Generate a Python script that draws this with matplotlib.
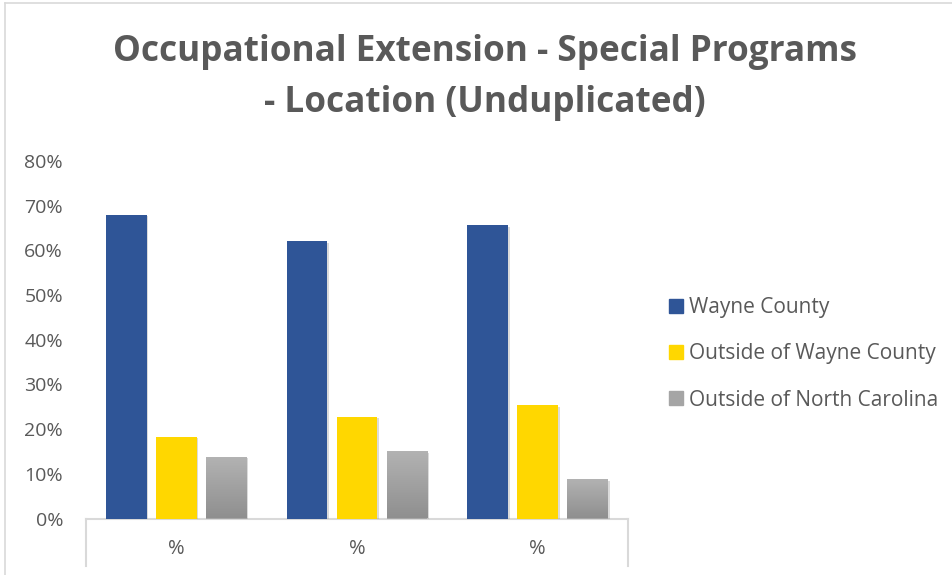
import numpy as np
import matplotlib
matplotlib.use("Agg")
import matplotlib.pyplot as plt
from matplotlib.lines import Line2D
from matplotlib.patches import Rectangle
from matplotlib.colors import LinearSegmentedColormap
import matplotlib.patheffects as pe

plt.rcParams['font.family'] = ['Open Sans', 'DejaVu Sans']

categories = ["%", "%", "%"]
series_names = ["Wayne County", "Outside of Wayne County", "Outside of North Carolina"]
wayne_county = [0.68, 0.62, 0.657]
outside_wayne = [0.183, 0.228, 0.254]
outside_nc = [0.138, 0.151, 0.088]
y_ticks = [0, 0.1, 0.2, 0.3, 0.4, 0.5, 0.6, 0.7, 0.8]

colors = ["#2F5597", "#FFD700", "#A5A5A5"]
text_color = "#595959"
line_color = "#D9D9D9"

W, H = 953, 575
ax_left, ax_right, ax_top, ax_bottom = 86, 628, 161, 518.5
fig = plt.figure(figsize=(W / 100, H / 100), dpi=100)
ax = fig.add_axes([ax_left / W, 1 - ax_bottom / H, (ax_right - ax_left) / W,
                   (ax_bottom - ax_top) / H])
px_per_unit_x = (ax_right - ax_left) / 3
px_per_unit_y = (ax_bottom - ax_top) / 0.8

x = np.arange(len(categories))
step = 50 / px_per_unit_x
width = 40.5 / px_per_unit_x
shadow = [pe.SimplePatchShadow(offset=(1.2, -1.2), shadow_rgbFace="#8a8a8a", alpha=0.3), pe.Normal()]

all_series = [wayne_county, outside_wayne, outside_nc]
containers = []
for i, (vals, c) in enumerate(zip(all_series, colors)):
    bars = ax.bar(x + (i - 1) * step, vals, width=width, color=c, zorder=3)
    for b in bars:
        b.set_path_effects(shadow)
    containers.append(bars)

# vertical gradient fill for the grey series
grad = np.linspace(0, 1, 256).reshape(-1, 1)
gcmap = LinearSegmentedColormap.from_list("g", ["#8F8F8F", "#B3B3B3"])
for b in containers[2]:
    x0, y0 = b.get_x(), b.get_y()
    im = ax.imshow(grad, cmap=gcmap, aspect="auto", origin="lower",
                   extent=[x0, x0 + b.get_width(), y0, y0 + b.get_height()], zorder=4)
    im.set_clip_path(b)

ax.set_xlim(-0.5, len(categories) - 0.5)
ax.set_ylim(0, 0.8)
ax.set_yticks(y_ticks)
ax.set_yticklabels([f"{int(round(t * 100))}%" for t in y_ticks])
ax.tick_params(axis="y", length=0, pad=16.5, labelsize=14, labelcolor=text_color)
ax.set_xticks([])
for s in ["top", "right", "left"]:
    ax.spines[s].set_visible(False)
ax.spines["bottom"].set_color(line_color)
ax.spines["bottom"].set_linewidth(1.5)
ax.spines["bottom"].set_zorder(2)

# category box below the axis
for xe in (-0.5, len(categories) - 0.5):
    ax.add_line(Line2D([xe, xe], [0, -47 / px_per_unit_y], color=line_color, lw=1.5,
                       clip_on=False))
for xi, lab in zip(x, categories):
    ax.text(xi, -31 / px_per_unit_y, lab, ha="center", va="center", fontsize=14.5,
            color=text_color)

# title
fig.text(485 / W, 1 - 52 / H, "Occupational Extension - Special Programs", ha="center",
         va="center", fontsize=25.3, fontweight="bold", color=text_color)
fig.text(485 / W, 1 - 103 / H, "- Location (Unduplicated)", ha="center",
         va="center", fontsize=25.3, fontweight="bold", color=text_color)

# legend
handles = [Rectangle((0, 0), 1, 1, color=c) for c in colors]
leg = fig.legend(handles, series_names, loc="center left", bbox_to_anchor=(669 / W, 1 - 354 / H),
                 frameon=False, fontsize=15, labelcolor=text_color, handlelength=0.65,
                 handleheight=0.65, handletextpad=0.3, labelspacing=1.2, borderpad=0,
                 borderaxespad=0)

# outer chart border (top and left edges)
fig.add_artist(Line2D([5 / W, 5 / W], [0, 1 - 3 / H], color=line_color, lw=1.2))
fig.add_artist(Line2D([5 / W, 1], [1 - 3 / H, 1 - 3 / H], color=line_color, lw=1.2))

fig.savefig("out.png", dpi=100, facecolor="white")
